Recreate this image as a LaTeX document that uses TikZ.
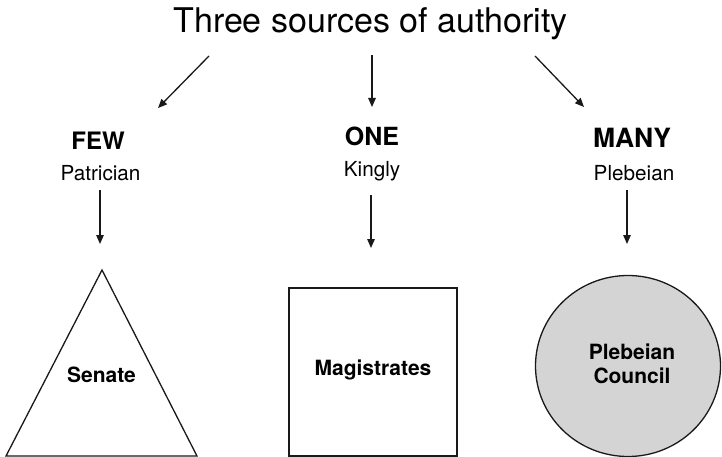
\documentclass[tikz,border=0pt]{standalone}
\usepackage{fontspec}
\setmainfont{TeX Gyre Heros}
\usetikzlibrary{arrows.meta}

\tikzset{
  flow/.style={line width=1.3pt, draw=black!90,
    -{Triangle[length=9pt,width=7.5pt]}},
  outline/.style={line width=1.3pt, draw=black!90},
  heading/.style={anchor=base, inner sep=0pt, font=\fontsize{34}{40}\selectfont},
  group/.style={anchor=base, inner sep=0pt, font=\bfseries\fontsize{25}{30}\selectfont},
  order/.style={anchor=base, inner sep=0pt, font=\fontsize{20.7}{25}\selectfont},
  body/.style={anchor=base, inner sep=0pt, font=\bfseries\fontsize{21}{25}\selectfont},
}

\begin{document}
\begin{tikzpicture}[x=1pt, y=-1pt]
  \useasboundingbox (0,0) rectangle (722,457);

  % title
  \node[heading] (title) at (370.5,33) {Three sources of authority};

  % the three groups
  \node[group, font=\bfseries\fontsize{24}{30}\selectfont] (few) at (98,150) {FEW};
  \node[order] (pat)  at (100.5,180) {Patrician};
  \node[group] (one)  at (372,146) {ONE};
  \node[order] (king) at (372,176) {Kingly};
  \node[group, font=\bfseries\fontsize{26.5}{30}\selectfont] (many) at (632,148) {MANY};
  \node[order] (pleb) at (634,180) {Plebeian};

  % arrow ends
  \coordinate (t1) at (209,56);  \coordinate (h1) at (158,108);
  \coordinate (t2) at (372,55);  \coordinate (h2) at (372,107);
  \coordinate (t3) at (535,56);  \coordinate (h3) at (584,107);
  \coordinate (d1) at (100,190); \coordinate (e1) at (100,244);
  \coordinate (d2) at (371,195); \coordinate (e2) at (371,248);
  \coordinate (d3) at (627,190); \coordinate (e3) at (627,244);

  % institutions
  \draw[outline] (102,270) coordinate (apex) -- (6,456) -- (197,456) -- cycle;
  \node[body] (senate) at (101.5,382) {Senate};

  \draw[outline] (289,288) rectangle (457,456);
  \node[body] (mag) at (373,375) {Magistrates};

  \draw[outline, fill=black!17] (628,366) ellipse [x radius=92.5, y radius=90.5];
  \node[body] (council1) at (632,359) {Plebeian};
  \node[body] (council2) at (632,383) {Council};

  % connectors
  \draw[flow] (t1) -- (h1);
  \draw[flow] (t2) -- (h2);
  \draw[flow] (t3) -- (h3);
  \draw[flow] (d1) -- (e1);
  \draw[flow] (d2) -- (e2);
  \draw[flow] (d3) -- (e3);
\end{tikzpicture}
\end{document}
